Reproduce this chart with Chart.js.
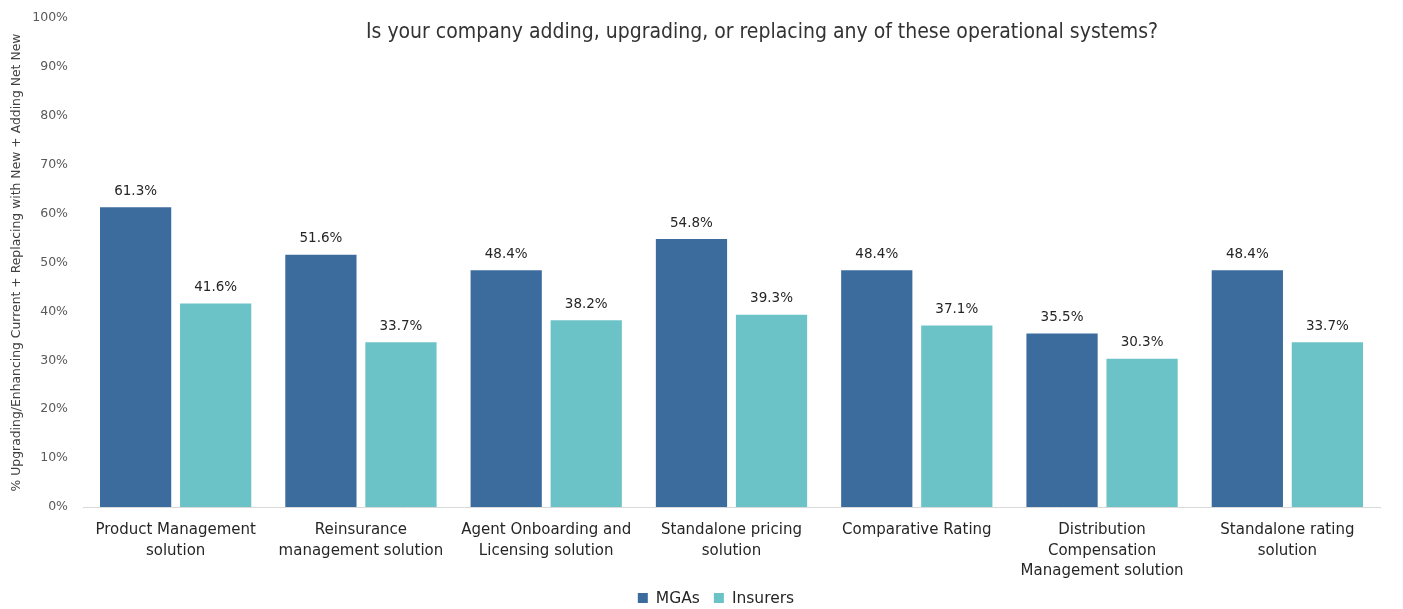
<!DOCTYPE html>
<html>
<head>
<meta charset="utf-8">
<script src="https://cdn.jsdelivr.net/npm/chart.js@4/dist/chart.umd.min.js"></script>
<style>
  html, body { margin: 0; padding: 0; background: #ffffff; }
  #wrap { width: 1403px; height: 609px; position: relative; }
</style>
</head>
<body>
<div id="wrap"><canvas id="chart"></canvas></div>
<script>
// Systems asked about in the survey
const categories = [
  ["Product Management", "solution"],
  ["Reinsurance", "management solution"],
  ["Agent Onboarding and", "Licensing solution"],
  ["Standalone pricing", "solution"],
  ["Comparative Rating"],
  ["Distribution", "Compensation", "Management solution"],
  ["Standalone rating", "solution"]
];

// Share of respondents adding, upgrading or replacing each system (%)
const mgaValues = [61.3, 51.6, 48.4, 54.8, 48.4, 35.5, 48.4];
const insurerValues = [41.6, 33.7, 38.2, 39.3, 37.1, 30.3, 33.7];

const seriesNames = ["MGAs", "Insurers"];
const seriesColors = ["#3C6C9E", "#6BC3C7"];
const yTicks = [0, 10, 20, 30, 40, 50, 60, 70, 80, 90, 100];

const chartTitle = "Is your company adding, upgrading, or replacing any of these operational systems?";
const yAxisTitle = "% Upgrading/Enhancing Current + Replacing with New + Adding Net New";

const BODY_FONT = "'DejaVu Sans', sans-serif";
const TITLE_FONT = "'Liberation Sans Narrow', 'DejaVu Sans Condensed', sans-serif";

// Value labels above each bar
const barValueLabels = {
  id: 'barValueLabels',
  afterDatasetsDraw(chart) {
    const ctx = chart.ctx;
    ctx.save();
    ctx.font = "13.5px " + BODY_FONT;
    ctx.fillStyle = '#262626';
    ctx.textAlign = 'center';
    ctx.textBaseline = 'middle';
    chart.data.datasets.forEach((ds, i) => {
      const meta = chart.getDatasetMeta(i);
      meta.data.forEach((bar, j) => {
        ctx.fillText(ds.data[j].toFixed(1) + '%', bar.x, bar.y - 16);
      });
    });
    ctx.restore();
  }
};

// Title drawn inside the plot area, near the top
const innerTitle = {
  id: 'innerTitle',
  afterDraw(chart) {
    const ctx = chart.ctx;
    ctx.save();
    ctx.font = "21px " + TITLE_FONT;
    ctx.fillStyle = '#333333';
    ctx.textAlign = 'center';
    ctx.textBaseline = 'middle';
    ctx.fillText(chartTitle, 762, 33);
    ctx.restore();
  }
};

// Series key centred under the plot
const bottomLegend = {
  id: 'bottomLegend',
  afterDraw(chart) {
    const ctx = chart.ctx;
    ctx.save();
    ctx.font = "15.5px " + BODY_FONT;
    ctx.textBaseline = 'middle';
    ctx.textAlign = 'left';
    const box = 10, gapBoxText = 8, gapItems = 14;
    const widths = chart.data.datasets.map(ds => box + gapBoxText + ctx.measureText(ds.label).width);
    const total = widths.reduce((a, b) => a + b, 0) + gapItems * (widths.length - 1);
    let x = 716 - total / 2;
    const y = 598;
    chart.data.datasets.forEach((ds, i) => {
      ctx.fillStyle = ds.backgroundColor;
      ctx.fillRect(x, y - box / 2, box, box);
      ctx.fillStyle = '#262626';
      ctx.fillText(ds.label, x + box + gapBoxText, y + 1);
      x += widths[i] + gapItems;
    });
    ctx.restore();
  }
};

new Chart(document.getElementById('chart'), {
  type: 'bar',
  data: {
    labels: categories,
    datasets: [
      {
        label: seriesNames[0],
        data: mgaValues,
        backgroundColor: seriesColors[0],
        categoryPercentage: 0.864,
        barPercentage: 0.89
      },
      {
        label: seriesNames[1],
        data: insurerValues,
        backgroundColor: seriesColors[1],
        categoryPercentage: 0.864,
        barPercentage: 0.89
      }
    ]
  },
  options: {
    responsive: true,
    maintainAspectRatio: false,
    animation: false,
    layout: { padding: { top: 3, right: 23, left: 3, bottom: 27 } },
    plugins: {
      title: { display: false },
      tooltip: { enabled: false },
      legend: { display: false }
    },
    scales: {
      x: {
        grid: { display: false, drawTicks: false },
        border: { display: true, color: '#d9d9d9', width: 1 },
        afterFit(axis) {
          axis.height = 75;
          axis.paddingLeft = 0;
          axis.paddingRight = 0;
        },
        ticks: {
          color: '#262626',
          padding: 13,
          maxRotation: 0,
          autoSkip: false,
          font: { family: BODY_FONT, size: 15, lineHeight: 1.37 }
        }
      },
      y: {
        min: 0,
        max: 100,
        grid: { display: false, drawTicks: false },
        border: { display: false },
        afterBuildTicks(axis) {
          axis.ticks = yTicks.map(v => ({ value: v }));
        },
        afterFit(axis) {
          axis.width = 80;
          axis.paddingTop = 18;
          axis.paddingBottom = 0;
        },
        ticks: {
          color: '#595959',
          padding: 15,
          font: { family: BODY_FONT, size: 12.5 },
          callback: v => v + '%'
        },
        title: {
          display: true,
          text: yAxisTitle,
          color: '#404040',
          padding: { top: 6, bottom: 0 },
          font: { family: BODY_FONT, size: 12.4 }
        }
      }
    }
  },
  plugins: [barValueLabels, innerTitle, bottomLegend]
});
</script>
</body>
</html>
